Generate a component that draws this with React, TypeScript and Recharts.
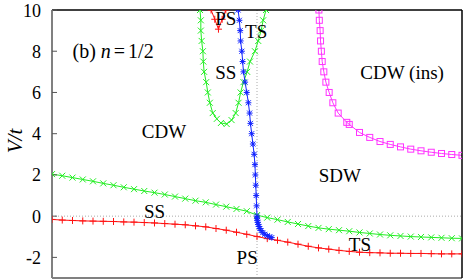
import { LineChart, Line, XAxis, YAxis, ReferenceLine, ReferenceDot } from 'recharts'

// shared x grid for the two lower boundaries
const xs = [0, 0.25, 0.5, 0.75, 1, 1.25, 1.5, 1.75, 2, 2.25, 2.5, 2.75, 3, 3.25, 3.5, 3.75, 4, 4.25, 4.5, 4.75,
  5, 5.25, 5.5, 5.75, 6, 6.25, 6.5, 6.75, 7, 7.25, 7.5, 7.75, 8, 8.25, 8.5, 8.75, 9, 9.25, 9.5, 9.75, 10]

const ssLowV = [2.04, 1.96, 1.87, 1.78, 1.69, 1.59, 1.5, 1.4, 1.31, 1.22, 1.14, 1.05, 0.95, 0.85, 0.75, 0.67, 0.56, 0.46, 0.35, 0.24,
  0.05, -0.07, -0.17, -0.28, -0.38, -0.48, -0.57, -0.63, -0.68, -0.73, -0.79, -0.84, -0.89, -0.93, -0.96, -0.99, -1.01, -1.03, -1.05, -1.07, -1.08]

const psLowV = [-0.16, -0.19, -0.21, -0.23, -0.24, -0.25, -0.26, -0.28, -0.29, -0.31, -0.33, -0.36, -0.39, -0.42, -0.47, -0.52, -0.6, -0.68, -0.78, -0.88,
  -0.99, -1.09, -1.17, -1.26, -1.36, -1.46, -1.54, -1.6, -1.66, -1.71, -1.75, -1.77, -1.78, -1.8, -1.8, -1.81, -1.81, -1.82, -1.83, -1.83, -1.83]

// upper SS pocket (sampled along V)
const ssUpX = [3.61, 3.63, 3.63, 3.65, 3.68, 3.69, 3.71, 3.76, 3.8, 3.85, 3.92, 4.02, 4.12, 4.26, 4.38, 4.48, 4.55, 4.6, 4.67, 4.76, 4.83, 4.95, 5.03, 5.1, 5.15, 5.22]
const ssUpV = [10, 9.5, 9, 8.5, 8, 7.5, 7, 6.5, 6, 5.5, 5, 4.72, 4.52, 4.47, 4.66, 5, 5.5, 6, 6.5, 7, 7.5, 8, 8.5, 9, 9.5, 10]

const psUpX = [3.88, 3.97, 4.06, 4.15, 4.24]
const psUpV = [10, 9.55, 9.07, 9.55, 10]

const tsX = [4.54, 4.57, 4.59, 4.6, 4.63, 4.65, 4.67, 4.71, 4.75, 4.79, 4.82, 4.84, 4.87, 4.9, 4.93, 4.95, 4.96, 4.97, 4.98, 4.99,
  5, 5, 5.01, 5.02, 5.03, 5.05, 5.07, 5.1, 5.14, 5.19, 5.25, 5.31, 5.36]
const tsV = [10, 9.5, 9, 8.5, 8, 7.5, 7, 6.5, 6, 5.5, 5, 4.5, 4, 3.5, 3, 2.5, 2, 1.5, 1, 0.5,
  0, -0.1, -0.2, -0.3, -0.4, -0.5, -0.6, -0.7, -0.8, -0.88, -0.95, -1, -1.04]

const cdwX = [6.51, 6.52, 6.54, 6.55, 6.57, 6.59, 6.63, 6.68, 6.76, 6.85, 6.98, 7.19, 7.25, 7.5, 7.75, 8, 8.25, 8.5, 8.75, 9, 9.25, 9.5, 9.75, 10]
const cdwV = [10, 9.5, 9, 8.5, 8, 7.5, 7, 6.5, 6, 5.5, 5, 4.55, 4.45, 4.06, 3.82, 3.62, 3.48, 3.36, 3.25, 3.17, 3.1, 3.04, 2.99, 2.95]

const xTicks = [0, 1, 2, 3, 4, 5, 6, 7, 8, 9, 10]
const yTicks = [-2, 0, 2, 4, 6, 8, 10]

const regionLabels = [
  { x: 4.24, y: 9.61, text: 'PS' },
  { x: 4.98, y: 8.98, text: 'TS' },
  { x: 4.24, y: 6.99, text: 'SS' },
  { x: 2.73, y: 4.1, text: 'CDW' },
  { x: 8.54, y: 6.99, text: 'CDW (ins)' },
  { x: 7.02, y: 1.99, text: 'SDW' },
  { x: 2.5, y: 0.24, text: 'SS' },
  { x: 4.76, y: -1.99, text: 'PS' },
  { x: 7.51, y: -1.36, text: 'TS' },
]

const zip = (x: number[], y: number[]) => x.map((v, i) => ({ x: v, y: y[i] }))

const FONT = '"Liberation Serif", serif'
const GREEN = '#22ee22'
const RED = '#ff1111'
const BLUE = '#1122ff'
const MAGENTA = '#ff33ff'

const cross = (color: string) => (p: any) => (
  <g key={p.index}>
    <line x1={p.cx - 3} y1={p.cy - 3} x2={p.cx + 3} y2={p.cy + 3} stroke={color} strokeWidth={1} />
    <line x1={p.cx - 3} y1={p.cy + 3} x2={p.cx + 3} y2={p.cy - 3} stroke={color} strokeWidth={1} />
  </g>
)
const plus = (color: string) => (p: any) => (
  <g key={p.index}>
    <line x1={p.cx - 3.5} y1={p.cy} x2={p.cx + 3.5} y2={p.cy} stroke={color} strokeWidth={1} />
    <line x1={p.cx} y1={p.cy - 3.5} x2={p.cx} y2={p.cy + 3.5} stroke={color} strokeWidth={1} />
  </g>
)
const star = (color: string) => (p: any) => (
  <g key={p.index}>
    <line x1={p.cx - 3} y1={p.cy} x2={p.cx + 3} y2={p.cy} stroke={color} strokeWidth={1} />
    <line x1={p.cx} y1={p.cy - 3} x2={p.cx} y2={p.cy + 3} stroke={color} strokeWidth={1} />
    <line x1={p.cx - 2.5} y1={p.cy - 2.5} x2={p.cx + 2.5} y2={p.cy + 2.5} stroke={color} strokeWidth={1} />
    <line x1={p.cx - 2.5} y1={p.cy + 2.5} x2={p.cx + 2.5} y2={p.cy - 2.5} stroke={color} strokeWidth={1} />
  </g>
)
const square = (color: string) => (p: any) => (
  <rect key={p.index} x={p.cx - 3} y={p.cy - 3} width={6} height={6} fill="none" stroke={color} strokeWidth={1} />
)

export default function App() {
  return (
    <div style={{ position: 'absolute', left: 0, top: 0, width: 471, height: 280, background: '#fff', fontFamily: FONT }}>
      <LineChart width={471} height={280} margin={{ top: 0, right: 0, bottom: 0, left: 0 }} style={{ fontFamily: FONT }}>
        <XAxis xAxisId="b" type="number" dataKey="x" domain={[0, 10]} ticks={xTicks} allowDataOverflow
          height={2} tick={false} tickSize={-5} tickLine={{ stroke: '#444' }}
          axisLine={{ stroke: '#808080', strokeWidth: 2 }} />
        <XAxis xAxisId="t" orientation="top" type="number" dataKey="x" domain={[0, 10]} ticks={xTicks} allowDataOverflow
          height={10} tick={false} tickSize={-5} tickLine={{ stroke: '#444' }}
          axisLine={{ stroke: '#000', strokeWidth: 1.5 }} />
        <YAxis yAxisId="l" type="number" domain={[-3, 10]} ticks={yTicks} allowDataOverflow width={52}
          tickSize={-5} tickMargin={16} tickLine={{ stroke: '#555' }}
          axisLine={{ stroke: '#808080', strokeWidth: 2 }}
          tick={{ fontSize: 18, fill: '#000', fontFamily: FONT }} />
        <YAxis yAxisId="r" orientation="right" type="number" domain={[-3, 10]} ticks={yTicks} allowDataOverflow width={9}
          tick={false} tickSize={-5} tickLine={{ stroke: '#555' }}
          axisLine={{ stroke: '#000', strokeWidth: 1.5 }} />

        <ReferenceLine xAxisId="b" yAxisId="l" y={0} stroke="#aaa" strokeDasharray="1 2" />
        <ReferenceLine xAxisId="b" yAxisId="l" x={5} stroke="#aaa" strokeDasharray="1 2" />

        <Line xAxisId="b" yAxisId="l" data={zip(xs, ssLowV)} dataKey="y" stroke={GREEN} strokeWidth={1}
          dot={cross(GREEN)} isAnimationActive={false} />
        <Line xAxisId="b" yAxisId="l" data={zip(xs, psLowV)} dataKey="y" stroke={RED} strokeWidth={1}
          dot={plus(RED)} isAnimationActive={false} />
        <Line xAxisId="b" yAxisId="l" data={zip(ssUpX, ssUpV)} dataKey="y" stroke={GREEN} strokeWidth={1}
          dot={cross(GREEN)} isAnimationActive={false} />
        <Line xAxisId="b" yAxisId="l" data={zip(psUpX, psUpV)} dataKey="y" stroke={RED} strokeWidth={1}
          dot={plus(RED)} isAnimationActive={false} />
        <Line xAxisId="b" yAxisId="l" data={zip(cdwX, cdwV)} dataKey="y" stroke={MAGENTA} strokeWidth={1}
          dot={square(MAGENTA)} isAnimationActive={false} />
        <Line xAxisId="b" yAxisId="l" data={zip(tsX, tsV)} dataKey="y" stroke={BLUE} strokeWidth={1}
          dot={star(BLUE)} isAnimationActive={false} />

        {regionLabels.map((r, i) => (
          <ReferenceDot key={i} xAxisId="b" yAxisId="l" x={r.x} y={r.y} r={0}
            shape={(p: any) => (
              <text x={p.cx} y={p.cy} textAnchor="middle" dominantBaseline="central"
                style={{ fontFamily: FONT }} fontSize={19} fill="#000">{r.text}</text>
            )} />
        ))}
        <ReferenceDot xAxisId="b" yAxisId="l" x={0.5} y={8} r={0}
          shape={(p: any) => (
            <text x={p.cx} y={p.cy} dominantBaseline="central" style={{ fontFamily: FONT }} fontSize={20} fill="#000">
              (b) <tspan fontStyle="italic">n</tspan><tspan dx={3}>=</tspan><tspan dx={3}>1/2</tspan>
            </text>
          )} />

        <text x={15} y={141} transform="rotate(-90 15 141)" textAnchor="middle" dominantBaseline="central"
          style={{ fontFamily: FONT }} fontStyle="italic" fontSize={21} fill="#000">V/t</text>
      </LineChart>
    </div>
  )
}
